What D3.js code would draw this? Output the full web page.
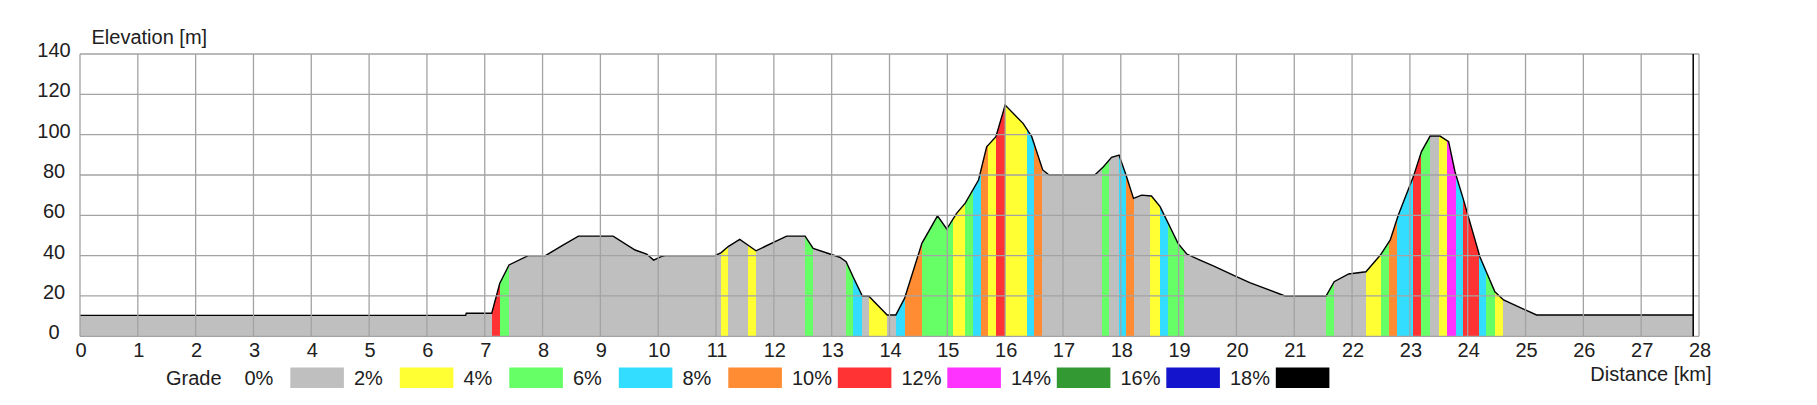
<!DOCTYPE html>
<html>
<head>
<meta charset="utf-8">
<script src="https://cdn.jsdelivr.net/npm/d3@7"></script>
<style>
  html, body { margin: 0; padding: 0; background: #ffffff; }
  svg text { font-family: "Liberation Sans", Arial, sans-serif; fill: #202020; }
</style>
</head>
<body>
<svg id="chart" width="1817" height="405"></svg>
<script>
// ---- data ----
const distKm = [0, 6.67, 6.68, 7.12, 7.26, 7.42, 7.75, 8.05, 8.36, 8.62, 9.22, 9.6, 9.8, 9.92, 10.05, 10.12, 10.98, 11.09, 11.21, 11.41, 11.55, 11.69, 12.22, 12.54, 12.68, 12.97, 13.14, 13.25, 13.37, 13.53, 13.64, 13.96, 14.11, 14.26, 14.56, 14.83, 14.99, 15.16, 15.31, 15.54, 15.68, 15.84, 16.0, 16.31, 16.46, 16.65, 16.76, 17.55, 17.7, 17.84, 17.97, 18.09, 18.22, 18.36, 18.53, 18.68, 18.99, 19.14, 19.37, 19.6, 20.0, 20.23, 20.84, 21.55, 21.69, 21.94, 22.24, 22.49, 22.66, 22.8, 23.06, 23.2, 23.35, 23.52, 23.67, 23.78, 23.92, 24.21, 24.47, 24.62, 25.19, 27.9];
const elevM  = [10.4, 10.4, 11.4, 11.4, 26.3, 35.4, 40, 40, 45.3, 49.7, 49.7, 42.8, 40.8, 37.8, 39.5, 40, 40, 41.5, 44.5, 48.1, 45.3, 42.4, 49.7, 49.7, 43.6, 40.8, 39.2, 37, 29.5, 20, 20, 10.6, 10.6, 18.8, 46.1, 59.7, 53.2, 61, 66, 77.5, 94, 99, 114.7, 105.6, 99, 82.5, 80, 80, 84.1, 88.8, 89.9, 80, 68.4, 70, 69.6, 64.3, 46.1, 40.8, 37.8, 34.9, 29.6, 26.6, 20, 20, 27.1, 30.9, 32, 40.3, 47.8, 60.2, 79.2, 91.6, 99.3, 99.3, 96.5, 81.6, 68.4, 39.5, 22.1, 18, 10.6, 10.6];

// grade bands: start km, end km, grade class (index into gradeColors)
const bandStart = [7.12, 7.26, 11.09, 11.55, 12.54, 13.25, 13.37, 13.65, 14.11, 14.26, 14.56, 15.10, 15.31, 15.45, 15.58, 15.70, 15.84, 15.99, 16.37, 16.50, 17.67, 17.97, 18.09, 18.51, 18.67, 18.82, 21.55, 22.24, 22.50, 22.64, 22.78, 23.06, 23.20, 23.51, 23.64, 23.80, 23.91, 24.19, 24.32, 24.48];
const bandEnd   = [7.26, 7.42, 11.21, 11.69, 12.67, 13.37, 13.53, 13.96, 14.26, 14.56, 15.10, 15.31, 15.45, 15.58, 15.70, 15.84, 15.99, 16.37, 16.50, 16.63, 17.80, 18.09, 18.22, 18.67, 18.82, 19.10, 21.69, 22.50, 22.64, 22.78, 23.06, 23.20, 23.35, 23.64, 23.80, 23.91, 24.19, 24.32, 24.48, 24.61];
const bandGrade = [5, 2, 1, 1, 2, 2, 3, 1, 3, 4, 2, 1, 2, 3, 4, 1, 5, 1, 3, 4, 2, 3, 4, 1, 3, 2, 2, 1, 2, 4, 3, 5, 2, 1, 6, 3, 5, 3, 2, 1];

const gradeLabels = ["0%", "2%", "4%", "6%", "8%", "10%", "12%", "14%", "16%", "18%"];
const gradeColors = ["#bfbfbf", "#ffff33", "#66ff66", "#33ddff", "#ff8c33", "#ff3333", "#ff33ff", "#339933", "#1414cc", "#000000"];

const xTicks = d3.range(0, 29, 1);
const yTicks = [0, 20, 40, 60, 80, 100, 120, 140];

// ---- layout ----
const svg = d3.select("#chart");
const plotLeft = 80, plotRight = 1699, plotTop = 54, plotBottom = 336.3;
const x = d3.scaleLinear().domain([0, 28]).range([plotLeft, plotRight]);
const y = d3.scaleLinear().domain([0, 140]).range([plotBottom, plotTop]);

const pts = distKm.map((d, i) => [d, elevM[i]]);

const area = d3.area().x(d => x(d[0])).y0(y(0)).y1(d => y(d[1]));
const line = d3.line().x(d => x(d[0])).y(d => y(d[1]));

svg.append("defs").append("clipPath").attr("id", "profileClip")
  .append("path").attr("d", area(pts));

// base fill (0-2% grade)
svg.append("path").attr("d", area(pts)).attr("fill", gradeColors[0]);

// grade bands
const bands = bandStart.map((s, i) => ({ s, e: bandEnd[i], g: bandGrade[i] }));
svg.append("g").attr("clip-path", "url(#profileClip)")
  .selectAll("rect").data(bands).join("rect")
  .attr("x", d => x(d.s))
  .attr("width", d => x(d.e) - x(d.s))
  .attr("y", y(140))
  .attr("height", y(0) - y(140))
  .attr("fill", d => gradeColors[d.g])
  .attr("shape-rendering", "crispEdges");

// profile line
svg.append("path").attr("d", line(pts))
  .attr("fill", "none").attr("stroke", "#000").attr("stroke-width", 1.4);

// grid (drawn over the profile)
const grid = svg.append("g").attr("stroke", "#a3a3a3").attr("stroke-width", 1.3);
grid.selectAll("line.v").data(xTicks).join("line").attr("class", "v")
  .attr("x1", d => x(d)).attr("x2", d => x(d))
  .attr("y1", y(140)).attr("y2", y(0));
grid.selectAll("line.h").data(yTicks).join("line").attr("class", "h")
  .attr("x1", x(0)).attr("x2", x(28))
  .attr("y1", d => y(d)).attr("y2", d => y(d));

// end-of-track marker
const lastKm = distKm[distKm.length - 1];
svg.append("line")
  .attr("x1", x(lastKm)).attr("x2", x(lastKm))
  .attr("y1", y(140)).attr("y2", y(0))
  .attr("stroke", "#000").attr("stroke-width", 1.5);

// y tick labels
svg.append("g").selectAll("text").data(yTicks).join("text")
  .attr("x", 54).attr("y", d => y(d) + 3)
  .attr("text-anchor", "middle").attr("font-size", 20)
  .text(d => d);

// x tick labels
svg.append("g").selectAll("text").data(xTicks).join("text")
  .attr("x", d => x(d) + 1).attr("y", 357)
  .attr("text-anchor", "middle").attr("font-size", 20)
  .text(d => d);

// axis titles
svg.append("text").attr("x", 91.5).attr("y", 43.5).attr("font-size", 20).text("Elevation [m]");
svg.append("text").attr("x", 1711.5).attr("y", 381).attr("text-anchor", "end").attr("font-size", 20).text("Distance [km]");

// legend
svg.append("text").attr("x", 166).attr("y", 384.5).attr("font-size", 20).text("Grade");
const lg = svg.append("g");
lg.selectAll("text").data(gradeLabels).join("text")
  .attr("x", (d, i) => 244.4 + i * 109.5).attr("y", 384.5).attr("font-size", 20)
  .text(d => d);
lg.selectAll("rect").data(gradeColors).join("rect")
  .attr("x", (d, i) => 290.3 + i * 109.5).attr("y", 367.5)
  .attr("width", 53.6).attr("height", 20.5)
  .attr("fill", d => d);
</script>
</body>
</html>
